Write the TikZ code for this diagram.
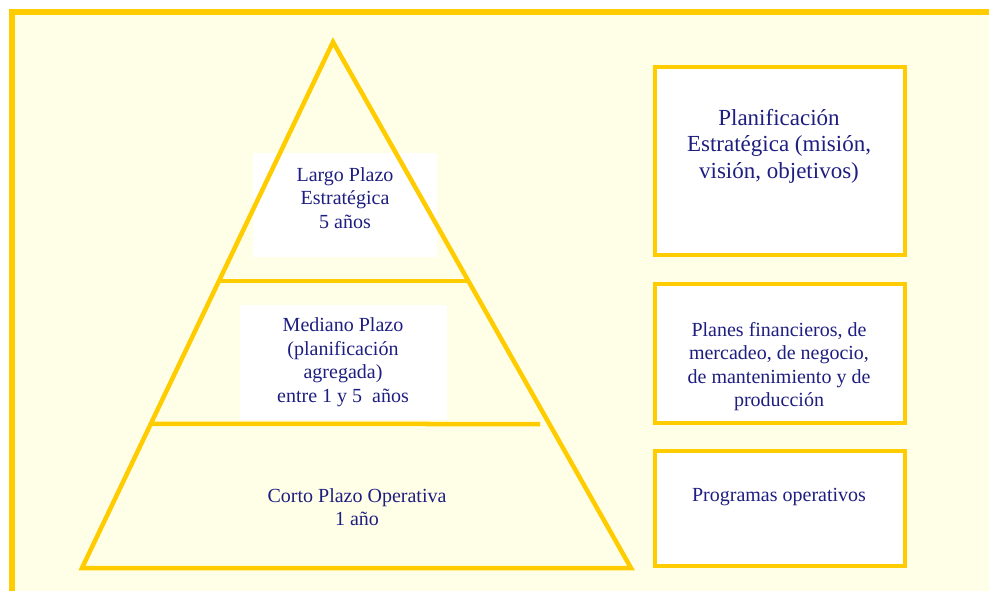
\documentclass[tikz,border=0pt]{standalone}
\usepackage{fontspec}
\setmainfont{Liberation Serif}
\usetikzlibrary{calc}
\definecolor{oro}{RGB}{255,204,0}
\definecolor{crema}{RGB}{255,255,232}
\definecolor{tinta}{RGB}{30,30,128}
\tikzset{
  piso/.style={font=\fontsize{20}{23.5}\selectfont,text=tinta,align=center,inner sep=0pt},
  caja/.style={draw=oro,line width=4.5pt,fill=white,minimum width=250pt,inner sep=0pt},
}
\begin{document}
\begin{tikzpicture}[x=1pt,y=-1pt]
\useasboundingbox (0,0) rectangle (989,591);
%fondo y marco
\fill[crema] (12,12) rectangle (989,591);
\draw[oro,line width=6pt] (12,591) -- (12,12) -- (992,12);
%piramide
\fill[white] (253,153) rectangle (437,257);
\fill[white] (240,305) rectangle (447,420);
\coordinate (pl) at (82,568);
\coordinate (pt) at (333,42);
\coordinate (pr) at (631,568);
\draw[oro,line width=4.5pt,line join=miter] (pl) -- (pt) -- (pr) -- cycle;
\draw[oro,line width=4.5pt] ($(pt)!239/526!(pl)$) -- ($(pt)!239/526!(pr)$);
\draw[oro,line width=4.5pt] ($(pt)!382/526!(pl)$) -- (540,424);
\node[piso] (largo) at (345,198) {Largo Plazo\\Estratégica\\ 5 años};
\node[piso] (mediano) at (343,362) {Mediano Plazo\\(planificación\\agregada)\\entre 1 y 5~ años};
\node[piso] (corto) at (357,507) {Corto Plazo Operativa\\1 año};
%cajas
\node[caja,minimum height=188pt] (caja1) at (780,161) {};
\node[caja,minimum height=139pt] (caja2) at (780,353.5) {};
\node[caja,minimum height=115pt] (caja3) at (780,508.5) {};
\node[piso,font=\fontsize{23}{26.5}\selectfont] (estrat) at (779,146) {Planificación\\Estratégica (misión,\\visión, objetivos)};
\node[piso] (tactic) at (779,366.5) {Planes financieros, de\\mercadeo, de negocio,\\de mantenimiento y de\\producción};
\node[piso] (operat) at (779,497) {Programas operativos};
\end{tikzpicture}
\end{document}
